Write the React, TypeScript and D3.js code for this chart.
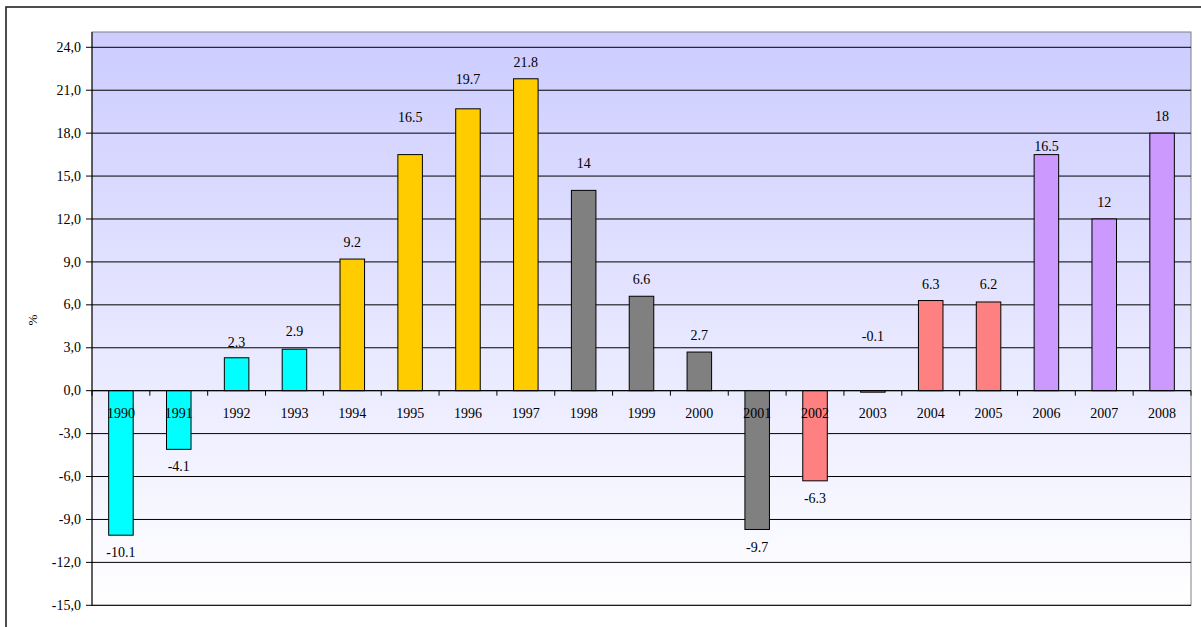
import React from "react";
import * as d3 from "d3";

const years = ["1990","1991","1992","1993","1994","1995","1996","1997","1998","1999","2000","2001","2002","2003","2004","2005","2006","2007","2008"];
const values = [-10.1,-4.1,2.3,2.9,9.2,16.5,19.7,21.8,14,6.6,2.7,-9.7,-6.3,-0.1,6.3,6.2,16.5,12,18];
const valueLabels = ["-10.1","-4.1","2.3","2.9","9.2","16.5","19.7","21.8","14","6.6","2.7","-9.7","-6.3","-0.1","6.3","6.2","16.5","12","18"];
const groupColors = ["#00FFFF","#00FFFF","#00FFFF","#00FFFF","#FFCC00","#FFCC00","#FFCC00","#FFCC00","#808080","#808080","#808080","#808080","#FF8080","#FF8080","#FF8080","#FF8080","#CC99FF","#CC99FF","#CC99FF"];
const yTicks = [24,21,18,15,12,9,6,3,0,-3,-6,-9,-12,-15];
// manual label nudges (px, extra distance away from bar end), as in source
const labelNudge = [0,0,-1.5,1,0,21,12.5,0,10.5,0,0,0,0,0,0,1,-8,0,0];

const W = 1201, H = 627;
const plot = { left: 92, right: 1191, top: 32, bottom: 605.3 };
const FONT = "Liberation Serif, Times New Roman, DejaVu Serif, serif";
const ts: React.CSSProperties = { fontFamily: FONT, fontSize: "14px" };

export default function App() {
  const x = d3.scaleBand<string>().domain(years).range([plot.left, plot.right]).padding(0);
  const y = d3.scaleLinear().domain([-15, 24]).range([plot.bottom, 47.3]);
  const step = x.step();
  const bw = step * 0.424;
  const y0 = y(0);
  const fmt = (v: number) => d3.format(".1f")(v).replace("\u2212", "-").replace(".", ",");

  return (
    <svg width={W} height={H} style={{ position: "absolute", left: 0, top: 0, background: "#fff" }}>
      <defs>
        <linearGradient id="bg" x1="0" y1="0" x2="0" y2="1">
          <stop offset="0" stopColor="#CCCCFF" />
          <stop offset="1" stopColor="#FFFFFF" />
        </linearGradient>
      </defs>
      {/* outer frame */}
      <rect x={6} y={7} width={W + 10} height={H + 10} fill="#fff" stroke="#222" strokeWidth={1.6} />
      {/* plot background */}
      <rect x={plot.left} y={plot.top} width={plot.right - plot.left} height={plot.bottom - plot.top} fill="url(#bg)" stroke="#808080" strokeWidth={1} />
      {/* gridlines */}
      {yTicks.map((t) => (
        <line key={"g" + t} x1={plot.left} x2={plot.right} y1={y(t)} y2={y(t)} stroke="#000" strokeWidth={1} />
      ))}
      {/* y axis */}
      <line x1={plot.left} x2={plot.left} y1={plot.top} y2={plot.bottom} stroke="#000" strokeWidth={1} />
      {yTicks.map((t) => (
        <g key={"yt" + t}>
          <line x1={plot.left - 6} x2={plot.left} y1={y(t)} y2={y(t)} stroke="#000" />
          <text x={81} y={y(t)} dy="0.33em" textAnchor="end" style={ts} fill="#000">{fmt(t)}</text>
        </g>
      ))}
      <text transform={`translate(33,320) rotate(-90)`} textAnchor="middle" dy="0.33em" style={{ ...ts, fontSize: "13px" }} fill="#000">%</text>
      {/* bars */}
      {years.map((yr, i) => {
        const v = values[i];
        const cx = (x(yr) as number) + step / 2;
        const top = Math.min(y(v), y0);
        const h = Math.max(Math.abs(y(v) - y0), 1.5);
        return (
          <rect key={"b" + yr} x={cx - bw / 2} y={top} width={bw} height={h} fill={groupColors[i]} stroke="#000" strokeWidth={1} />
        );
      })}
      {/* x axis ticks */}
      {d3.range(years.length + 1).map((k) => (
        <line key={"xt" + k} x1={plot.left + k * step} x2={plot.left + k * step} y1={y0} y2={y0 + 5} stroke="#000" />
      ))}
      <line x1={plot.left} x2={plot.right} y1={y0} y2={y0} stroke="#000" />
      {/* category labels */}
      {years.map((yr) => (
        <text key={"c" + yr} x={(x(yr) as number) + step / 2} y={y0 + 23} dy="0.33em" textAnchor="middle" style={ts} fill="#000">{yr}</text>
      ))}
      {/* value labels */}
      {years.map((yr, i) => {
        const v = values[i];
        const cx = (x(yr) as number) + step / 2;
        let ly: number;
        if (yr === "2003") {
          ly = y(0) - 54;
        } else if (v >= 0) {
          ly = y(v) - 16.5 - labelNudge[i];
        } else {
          ly = y(v) + 17.5 + labelNudge[i];
        }
        return (
          <text key={"v" + yr} x={cx} y={ly} dy="0.33em" textAnchor="middle" style={ts} fill="#000">{valueLabels[i]}</text>
        );
      })}
    </svg>
  );
}
